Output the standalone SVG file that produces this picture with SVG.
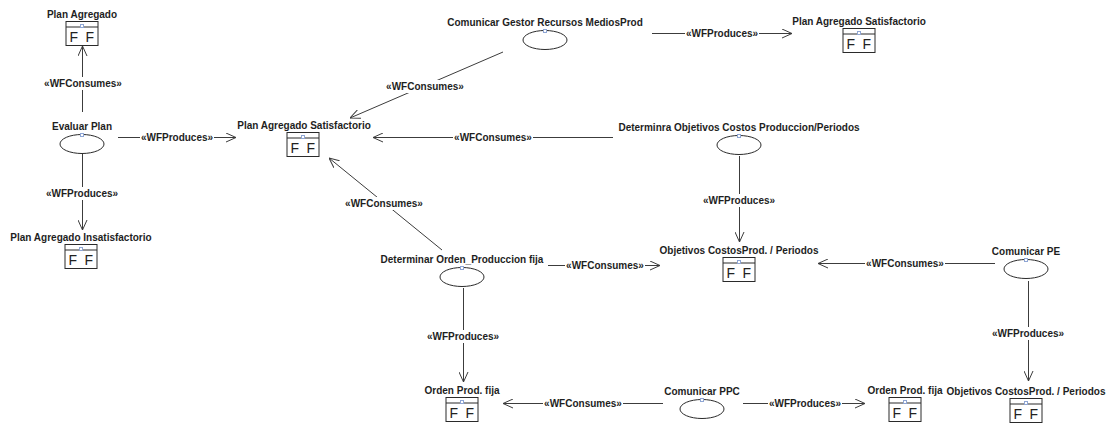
<svg xmlns="http://www.w3.org/2000/svg" width="1114" height="423" viewBox="0 0 1114 423">
  <style>
    .lbl { font-family: "Liberation Sans", Arial, sans-serif; font-size: 10px; font-weight: bold; fill: #1e1e1e; text-anchor: middle; }
    .icon { font-family: "Liberation Sans", Arial, sans-serif; font-size: 14px; fill: #222; word-spacing: 3.5px; }
    .edge { stroke: #3c3c3c; stroke-width: 1; fill: none; marker-end: url(#open); }
    .mask { fill: #fff; }
    .obj { fill: #fff; stroke: #2a2a2a; stroke-width: 1; }
    .hdr { stroke: #2a2a2a; stroke-width: 1; }
    .pin { fill: #fff; stroke: #8fa6d4; stroke-width: 1; }
    .act { fill: #fff; stroke: #2a2a2a; stroke-width: 1; }
  </style>
  <defs>
    <marker id="open" viewBox="0 0 10 10" refX="10" refY="5" markerWidth="10" markerHeight="10" markerUnits="userSpaceOnUse" orient="auto">
      <path d="M0,0.5 L10,5 L0,9.5" fill="none" stroke="#3c3c3c" stroke-width="1"/>
    </marker>
    <!-- data object: box with header band, anchor pin and form glyphs -->
    <g id="objbox">
      <rect class="obj" x="-16" y="0.5" width="32" height="24"/>
      <line class="hdr" x1="-16" y1="6" x2="16" y2="6"/>
      <rect class="pin" x="-1.5" y="3.5" width="3" height="3"/>
      <text class="icon" x="-12.5" y="20.5">F F</text>
    </g>
    <!-- activity: ellipse with anchor pin -->
    <g id="actshape">
      <ellipse class="act" cx="0" cy="0" rx="22" ry="9.5"/>
      <rect class="pin" x="-1.5" y="-10.5" width="3" height="3"/>
    </g>
  </defs>

  <rect width="1114" height="423" fill="#fff"/>

  <!-- connectors -->
  <g id="connectors">
    <g>
      <line class="edge" x1="82.5" y1="112" x2="82.5" y2="46"/>
      <rect class="mask" x="43" y="77" width="80" height="13"/>
      <text class="lbl" x="83" y="87">«WFConsumes»</text>
    </g>
    <g>
      <line class="edge" x1="118" y1="137.5" x2="236" y2="137.5"/>
      <rect class="mask" x="140" y="131" width="74" height="13"/>
      <text class="lbl" x="177" y="141">«WFProduces»</text>
    </g>
    <g>
      <line class="edge" x1="82.5" y1="153" x2="82.5" y2="230"/>
      <rect class="mask" x="45" y="187" width="74" height="13"/>
      <text class="lbl" x="82" y="197">«WFProduces»</text>
    </g>
    <g>
      <line class="edge" x1="503" y1="52" x2="350" y2="118"/>
      <rect class="mask" x="385" y="80" width="80" height="13"/>
      <text class="lbl" x="425" y="90">«WFConsumes»</text>
    </g>
    <g>
      <line class="edge" x1="652" y1="33.5" x2="792" y2="33.5"/>
      <rect class="mask" x="685" y="27" width="74" height="13"/>
      <text class="lbl" x="722" y="37">«WFProduces»</text>
    </g>
    <g>
      <line class="edge" x1="613" y1="137.5" x2="373" y2="137.5"/>
      <rect class="mask" x="453" y="131" width="80" height="13"/>
      <text class="lbl" x="493" y="141">«WFConsumes»</text>
    </g>
    <g>
      <line class="edge" x1="442" y1="250" x2="329" y2="158"/>
      <rect class="mask" x="344" y="197" width="80" height="13"/>
      <text class="lbl" x="384" y="207">«WFConsumes»</text>
    </g>
    <g>
      <line class="edge" x1="739.5" y1="156" x2="739.5" y2="242"/>
      <rect class="mask" x="702" y="194" width="74" height="13"/>
      <text class="lbl" x="739" y="204">«WFProduces»</text>
    </g>
    <g>
      <line class="edge" x1="548" y1="265.5" x2="660" y2="265.5"/>
      <rect class="mask" x="565" y="259" width="80" height="13"/>
      <text class="lbl" x="605" y="269">«WFConsumes»</text>
    </g>
    <g>
      <line class="edge" x1="995" y1="263.5" x2="818" y2="263.5"/>
      <rect class="mask" x="865" y="257" width="80" height="13"/>
      <text class="lbl" x="905" y="267">«WFConsumes»</text>
    </g>
    <g>
      <line class="edge" x1="1028.5" y1="281" x2="1028.5" y2="381"/>
      <rect class="mask" x="991" y="327" width="74" height="13"/>
      <text class="lbl" x="1028" y="337">«WFProduces»</text>
    </g>
    <g>
      <line class="edge" x1="463.5" y1="288" x2="463.5" y2="382"/>
      <rect class="mask" x="426" y="330" width="74" height="13"/>
      <text class="lbl" x="463" y="340">«WFProduces»</text>
    </g>
    <g>
      <line class="edge" x1="663" y1="403.5" x2="503" y2="403.5"/>
      <rect class="mask" x="543" y="397" width="80" height="13"/>
      <text class="lbl" x="583" y="407">«WFConsumes»</text>
    </g>
    <g>
      <line class="edge" x1="743" y1="403.5" x2="865" y2="403.5"/>
      <rect class="mask" x="768" y="397" width="74" height="13"/>
      <text class="lbl" x="805" y="407">«WFProduces»</text>
    </g>
  </g>

  <!-- activities -->
  <g id="evaluar-plan">
    <text class="lbl" x="82" y="130">Evaluar Plan</text>
    <use href="#actshape" x="82" y="144"/>
  </g>
  <g id="comunicar-gestor">
    <text class="lbl" x="545" y="26">Comunicar Gestor Recursos MediosProd</text>
    <use href="#actshape" x="545" y="40"/>
  </g>
  <g id="determinra-objetivos">
    <text class="lbl" x="739" y="131">Determinra Objetivos Costos Produccion/Periodos</text>
    <use href="#actshape" x="739" y="145"/>
  </g>
  <g id="determinar-orden">
    <text class="lbl" x="462" y="263">Determinar Orden_Produccion fija</text>
    <use href="#actshape" x="462" y="277"/>
  </g>
  <g id="comunicar-pe">
    <text class="lbl" x="1026" y="255">Comunicar PE</text>
    <use href="#actshape" x="1026" y="269"/>
  </g>
  <g id="comunicar-ppc">
    <text class="lbl" x="702" y="395">Comunicar PPC</text>
    <use href="#actshape" x="702" y="409"/>
  </g>

  <!-- data objects -->
  <g id="plan-agregado">
    <text class="lbl" x="82" y="18">Plan Agregado</text>
    <use href="#objbox" x="82" y="21"/>
  </g>
  <g id="plan-agregado-insatisfactorio">
    <text class="lbl" x="81" y="241">Plan Agregado Insatisfactorio</text>
    <use href="#objbox" x="81" y="244"/>
  </g>
  <g id="plan-agregado-satisfactorio">
    <text class="lbl" x="304" y="129">Plan Agregado Satisfactorio</text>
    <use href="#objbox" x="303" y="132"/>
  </g>
  <g id="plan-agregado-satisfactorio-2">
    <text class="lbl" x="859" y="25">Plan Agregado Satisfactorio</text>
    <use href="#objbox" x="859" y="28"/>
  </g>
  <g id="objetivos-costos">
    <text class="lbl" x="739" y="254">Objetivos CostosProd. / Periodos</text>
    <use href="#objbox" x="739" y="257"/>
  </g>
  <g id="orden-prod-fija">
    <text class="lbl" x="462" y="394">Orden Prod. fija</text>
    <use href="#objbox" x="462" y="397"/>
  </g>
  <g id="orden-prod-fija-2">
    <text class="lbl" x="905" y="394">Orden Prod. fija</text>
    <use href="#objbox" x="905" y="397"/>
  </g>
  <g id="objetivos-costos-2">
    <text class="lbl" x="1026" y="395">Objetivos CostosProd. / Periodos</text>
    <use href="#objbox" x="1026" y="398"/>
  </g>
</svg>
